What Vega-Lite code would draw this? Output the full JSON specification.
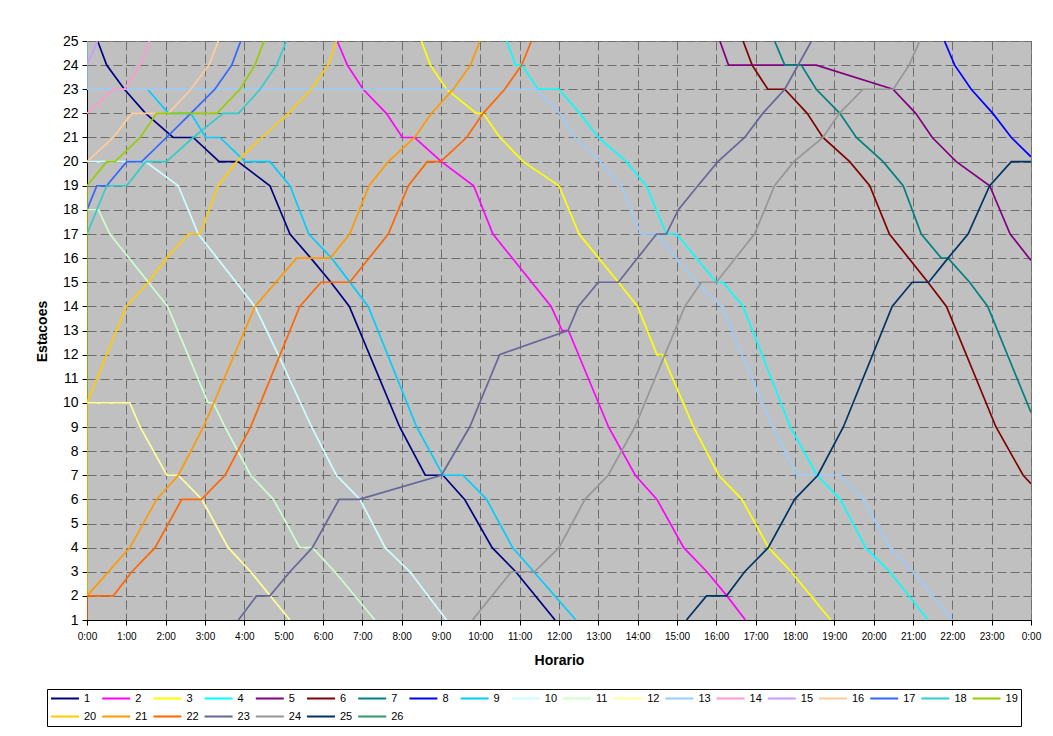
{
"$schema": "https://vega.github.io/schema/vega-lite/v6.json",
"width": 944, "height": 579,
"autosize": {"type": "none"},
"padding": {"left": 87, "top": 41, "right": 22, "bottom": 116},
"background": "white",
"config": {"view": {"fill": "#C0C0C0", "stroke": "#808080", "strokeWidth": 1}, "font": "Liberation Sans"},
"data": {"values": [
{"s":"1","t":0.27,"y":25,"o":0},{"s":"1","t":0.5,"y":24,"o":1},{"s":"1","t":0.95,"y":23,"o":2},{"s":"1","t":1.49,"y":22,"o":3},{"s":"1","t":2.19,"y":21,"o":4},{"s":"1","t":2.7,"y":21,"o":5},{"s":"1","t":3.36,"y":20,"o":6},{"s":"1","t":3.84,"y":20,"o":7},{"s":"1","t":4.65,"y":19,"o":8},{"s":"1","t":5.16,"y":17,"o":9},{"s":"1","t":5.69,"y":16,"o":10},{"s":"1","t":6.2,"y":15,"o":11},{"s":"1","t":6.67,"y":14,"o":12},{"s":"1","t":7.95,"y":9,"o":13},{"s":"1","t":8.6,"y":7,"o":14},{"s":"1","t":9.05,"y":7,"o":15},{"s":"1","t":9.6,"y":6,"o":16},{"s":"1","t":10.3,"y":4,"o":17},{"s":"1","t":10.9,"y":3,"o":18},{"s":"1","t":11.9,"y":1,"o":19},
{"s":"2","t":6.36,"y":25,"o":0},{"s":"2","t":6.62,"y":24,"o":1},{"s":"2","t":7.02,"y":23,"o":2},{"s":"2","t":7.61,"y":22,"o":3},{"s":"2","t":8.02,"y":21,"o":4},{"s":"2","t":8.33,"y":21,"o":5},{"s":"2","t":9.01,"y":20,"o":6},{"s":"2","t":9.83,"y":19,"o":7},{"s":"2","t":10.32,"y":17,"o":8},{"s":"2","t":11.8,"y":14,"o":9},{"s":"2","t":12.08,"y":13,"o":10},{"s":"2","t":12.24,"y":13,"o":11},{"s":"2","t":13.26,"y":9,"o":12},{"s":"2","t":13.94,"y":7,"o":13},{"s":"2","t":14.49,"y":6,"o":14},{"s":"2","t":15.17,"y":4,"o":15},{"s":"2","t":15.76,"y":3,"o":16},{"s":"2","t":16.27,"y":2,"o":17},{"s":"2","t":16.74,"y":1,"o":18},
{"s":"3","t":8.5,"y":25,"o":0},{"s":"3","t":8.73,"y":24,"o":1},{"s":"3","t":9.14,"y":23,"o":2},{"s":"3","t":9.9,"y":22,"o":3},{"s":"3","t":10.07,"y":22,"o":4},{"s":"3","t":10.5,"y":21,"o":5},{"s":"3","t":11.09,"y":20,"o":6},{"s":"3","t":12.0,"y":19,"o":7},{"s":"3","t":12.51,"y":17,"o":8},{"s":"3","t":13.51,"y":15,"o":9},{"s":"3","t":14.0,"y":14,"o":10},{"s":"3","t":14.49,"y":12,"o":11},{"s":"3","t":14.63,"y":12,"o":12},{"s":"3","t":15.42,"y":9,"o":13},{"s":"3","t":16.06,"y":7,"o":14},{"s":"3","t":16.65,"y":6,"o":15},{"s":"3","t":17.33,"y":4,"o":16},{"s":"3","t":17.9,"y":3,"o":17},{"s":"3","t":18.91,"y":1,"o":18},
{"s":"4","t":10.67,"y":25,"o":0},{"s":"4","t":10.9,"y":24,"o":1},{"s":"4","t":11.05,"y":24,"o":2},{"s":"4","t":11.47,"y":23,"o":3},{"s":"4","t":12.0,"y":23,"o":4},{"s":"4","t":12.53,"y":22,"o":5},{"s":"4","t":13.0,"y":21,"o":6},{"s":"4","t":13.71,"y":20,"o":7},{"s":"4","t":14.22,"y":19,"o":8},{"s":"4","t":14.73,"y":17,"o":9},{"s":"4","t":14.99,"y":17,"o":10},{"s":"4","t":16.0,"y":15,"o":11},{"s":"4","t":16.17,"y":15,"o":12},{"s":"4","t":16.68,"y":14,"o":13},{"s":"4","t":17.88,"y":9,"o":14},{"s":"4","t":18.56,"y":7,"o":15},{"s":"4","t":19.15,"y":6,"o":16},{"s":"4","t":19.8,"y":4,"o":17},{"s":"4","t":20.41,"y":3,"o":18},{"s":"4","t":21.38,"y":1,"o":19},
{"s":"5","t":16.09,"y":25,"o":0},{"s":"5","t":16.31,"y":24,"o":1},{"s":"5","t":18.54,"y":24,"o":2},{"s":"5","t":20.49,"y":23,"o":3},{"s":"5","t":21.07,"y":22,"o":4},{"s":"5","t":21.49,"y":21,"o":5},{"s":"5","t":22.1,"y":20,"o":6},{"s":"5","t":22.95,"y":19,"o":7},{"s":"5","t":23.47,"y":17,"o":8},{"s":"5","t":24,"y":15.9,"o":9},
{"s":"6","t":16.68,"y":25,"o":0},{"s":"6","t":16.91,"y":24,"o":1},{"s":"6","t":17.31,"y":23,"o":2},{"s":"6","t":17.74,"y":23,"o":3},{"s":"6","t":18.31,"y":22,"o":4},{"s":"6","t":18.71,"y":21,"o":5},{"s":"6","t":19.39,"y":20,"o":6},{"s":"6","t":19.9,"y":19,"o":7},{"s":"6","t":20.4,"y":17,"o":8},{"s":"6","t":21.38,"y":15,"o":9},{"s":"6","t":21.85,"y":14,"o":10},{"s":"6","t":23.11,"y":9,"o":11},{"s":"6","t":23.8,"y":7,"o":12},{"s":"6","t":24,"y":6.65,"o":13},
{"s":"7","t":17.48,"y":25,"o":0},{"s":"7","t":17.74,"y":24,"o":1},{"s":"7","t":18.16,"y":24,"o":2},{"s":"7","t":18.54,"y":23,"o":3},{"s":"7","t":19.14,"y":22,"o":4},{"s":"7","t":19.56,"y":21,"o":5},{"s":"7","t":20.24,"y":20,"o":6},{"s":"7","t":20.75,"y":19,"o":7},{"s":"7","t":21.21,"y":17,"o":8},{"s":"7","t":21.72,"y":16,"o":9},{"s":"7","t":21.89,"y":16,"o":10},{"s":"7","t":22.44,"y":15,"o":11},{"s":"7","t":22.9,"y":14,"o":12},{"s":"7","t":24,"y":9.6,"o":13},
{"s":"8","t":21.8,"y":25,"o":0},{"s":"8","t":22.06,"y":24,"o":1},{"s":"8","t":22.48,"y":23,"o":2},{"s":"8","t":23.03,"y":22,"o":3},{"s":"8","t":23.5,"y":21,"o":4},{"s":"8","t":24,"y":20.2,"o":5},
{"s":"9","t":1.54,"y":23,"o":0},{"s":"9","t":2.07,"y":22,"o":1},{"s":"9","t":2.64,"y":22,"o":2},{"s":"9","t":3.02,"y":21,"o":3},{"s":"9","t":3.38,"y":21,"o":4},{"s":"9","t":4.02,"y":20,"o":5},{"s":"9","t":4.65,"y":20,"o":6},{"s":"9","t":5.16,"y":19,"o":7},{"s":"9","t":5.64,"y":17,"o":8},{"s":"9","t":6.22,"y":16,"o":9},{"s":"9","t":7.15,"y":14,"o":10},{"s":"9","t":8.38,"y":9,"o":11},{"s":"9","t":9.05,"y":7,"o":12},{"s":"9","t":9.56,"y":7,"o":13},{"s":"9","t":10.16,"y":6,"o":14},{"s":"9","t":10.82,"y":4,"o":15},{"s":"9","t":12.43,"y":1,"o":16},
{"s":"10","t":0,"y":20,"o":0},{"s":"10","t":1.49,"y":20,"o":1},{"s":"10","t":2.32,"y":19,"o":2},{"s":"10","t":2.83,"y":17,"o":3},{"s":"10","t":4.27,"y":14,"o":4},{"s":"10","t":4.86,"y":12,"o":5},{"s":"10","t":5.71,"y":9,"o":6},{"s":"10","t":6.34,"y":7,"o":7},{"s":"10","t":6.94,"y":6,"o":8},{"s":"10","t":7.58,"y":4,"o":9},{"s":"10","t":8.21,"y":3,"o":10},{"s":"10","t":9.14,"y":1,"o":11},
{"s":"11","t":0,"y":18,"o":0},{"s":"11","t":0.29,"y":18,"o":1},{"s":"11","t":0.58,"y":17,"o":2},{"s":"11","t":1.56,"y":15,"o":3},{"s":"11","t":2.05,"y":14,"o":4},{"s":"11","t":3.08,"y":10,"o":5},{"s":"11","t":3.21,"y":10,"o":6},{"s":"11","t":3.51,"y":9,"o":7},{"s":"11","t":4.16,"y":7,"o":8},{"s":"11","t":4.74,"y":6,"o":9},{"s":"11","t":5.41,"y":4,"o":10},{"s":"11","t":5.73,"y":4,"o":11},{"s":"11","t":6.3,"y":3,"o":12},{"s":"11","t":7.32,"y":1,"o":13},
{"s":"12","t":0,"y":10,"o":0},{"s":"12","t":1.09,"y":10,"o":1},{"s":"12","t":1.35,"y":9,"o":2},{"s":"12","t":2.03,"y":7,"o":3},{"s":"12","t":2.32,"y":7,"o":4},{"s":"12","t":2.92,"y":6,"o":5},{"s":"12","t":3.59,"y":4,"o":6},{"s":"12","t":4.16,"y":3,"o":7},{"s":"12","t":5.16,"y":1,"o":8},
{"s":"13","t":0,"y":25,"o":0},{"s":"13","t":0,"y":23,"o":1},{"s":"13","t":11.43,"y":23,"o":2},{"s":"13","t":12.02,"y":22,"o":3},{"s":"13","t":12.4,"y":21,"o":4},{"s":"13","t":13.04,"y":20,"o":5},{"s":"13","t":13.59,"y":19,"o":6},{"s":"13","t":14.08,"y":17,"o":7},{"s":"13","t":14.48,"y":17,"o":8},{"s":"13","t":15.49,"y":15,"o":9},{"s":"13","t":16.13,"y":14,"o":10},{"s":"13","t":17.43,"y":9,"o":11},{"s":"13","t":18.05,"y":7,"o":12},{"s":"13","t":19.15,"y":7,"o":13},{"s":"13","t":19.73,"y":6,"o":14},{"s":"13","t":20.41,"y":4,"o":15},{"s":"13","t":21.0,"y":3,"o":16},{"s":"13","t":22.0,"y":1,"o":17},
{"s":"14","t":0,"y":22,"o":0},{"s":"14","t":0.67,"y":23,"o":1},{"s":"14","t":0.95,"y":23,"o":2},{"s":"14","t":1.35,"y":24,"o":3},{"s":"14","t":1.58,"y":25,"o":4},
{"s":"15","t":0,"y":24,"o":0},{"s":"15","t":0.27,"y":25,"o":1},
{"s":"16","t":0,"y":20,"o":0},{"s":"16","t":0.67,"y":21,"o":1},{"s":"16","t":1.14,"y":22,"o":2},{"s":"16","t":2.07,"y":22,"o":3},{"s":"16","t":2.64,"y":23,"o":4},{"s":"16","t":3.1,"y":24,"o":5},{"s":"16","t":3.34,"y":25,"o":6},
{"s":"17","t":0,"y":18,"o":0},{"s":"17","t":0.25,"y":19,"o":1},{"s":"17","t":0.5,"y":19,"o":2},{"s":"17","t":1.01,"y":20,"o":3},{"s":"17","t":1.39,"y":20,"o":4},{"s":"17","t":2.02,"y":21,"o":5},{"s":"17","t":2.64,"y":22,"o":6},{"s":"17","t":3.25,"y":23,"o":7},{"s":"17","t":3.68,"y":24,"o":8},{"s":"17","t":3.91,"y":25,"o":9},
{"s":"18","t":0,"y":17,"o":0},{"s":"18","t":0.5,"y":19,"o":1},{"s":"18","t":1.01,"y":19,"o":2},{"s":"18","t":1.49,"y":20,"o":3},{"s":"18","t":2.02,"y":20,"o":4},{"s":"18","t":2.7,"y":21,"o":5},{"s":"18","t":3.46,"y":22,"o":6},{"s":"18","t":3.85,"y":22,"o":7},{"s":"18","t":4.4,"y":23,"o":8},{"s":"18","t":4.82,"y":24,"o":9},{"s":"18","t":5.07,"y":25,"o":10},
{"s":"19","t":0,"y":10,"o":0},{"s":"19","t":0,"y":19,"o":1},{"s":"19","t":0.5,"y":20,"o":2},{"s":"19","t":0.71,"y":20,"o":3},{"s":"19","t":1.35,"y":21,"o":4},{"s":"19","t":1.77,"y":22,"o":5},{"s":"19","t":3.3,"y":22,"o":6},{"s":"19","t":3.89,"y":23,"o":7},{"s":"19","t":4.27,"y":24,"o":8},{"s":"19","t":4.5,"y":25,"o":9},
{"s":"20","t":0,"y":2,"o":0},{"s":"20","t":0,"y":10,"o":1},{"s":"20","t":1.0,"y":14,"o":2},{"s":"20","t":1.56,"y":15,"o":3},{"s":"20","t":2.02,"y":16,"o":4},{"s":"20","t":2.58,"y":17,"o":5},{"s":"20","t":2.87,"y":17,"o":6},{"s":"20","t":3.34,"y":19,"o":7},{"s":"20","t":3.8,"y":20,"o":8},{"s":"20","t":4.45,"y":21,"o":9},{"s":"20","t":5.12,"y":22,"o":10},{"s":"20","t":5.7,"y":23,"o":11},{"s":"20","t":6.13,"y":24,"o":12},{"s":"20","t":6.34,"y":25,"o":13},
{"s":"21","t":0,"y":2,"o":0},{"s":"21","t":1.09,"y":4,"o":1},{"s":"21","t":1.77,"y":6,"o":2},{"s":"21","t":2.32,"y":7,"o":3},{"s":"21","t":2.96,"y":9,"o":4},{"s":"21","t":4.27,"y":14,"o":5},{"s":"21","t":5.33,"y":16,"o":6},{"s":"21","t":6.18,"y":16,"o":7},{"s":"21","t":6.68,"y":17,"o":8},{"s":"21","t":7.17,"y":19,"o":9},{"s":"21","t":7.66,"y":20,"o":10},{"s":"21","t":8.33,"y":21,"o":11},{"s":"21","t":8.76,"y":22,"o":12},{"s":"21","t":9.31,"y":23,"o":13},{"s":"21","t":9.75,"y":24,"o":14},{"s":"21","t":9.99,"y":25,"o":15},
{"s":"22","t":0,"y":1,"o":0},{"s":"22","t":0,"y":2,"o":1},{"s":"22","t":0.67,"y":2,"o":2},{"s":"22","t":1.14,"y":3,"o":3},{"s":"22","t":1.73,"y":4,"o":4},{"s":"22","t":2.41,"y":6,"o":5},{"s":"22","t":2.91,"y":6,"o":6},{"s":"22","t":3.51,"y":7,"o":7},{"s":"22","t":4.16,"y":9,"o":8},{"s":"22","t":5.41,"y":14,"o":9},{"s":"22","t":5.95,"y":15,"o":10},{"s":"22","t":6.68,"y":15,"o":11},{"s":"22","t":7.66,"y":17,"o":12},{"s":"22","t":8.17,"y":19,"o":13},{"s":"22","t":8.65,"y":20,"o":14},{"s":"22","t":8.99,"y":20,"o":15},{"s":"22","t":9.65,"y":21,"o":16},{"s":"22","t":10.07,"y":22,"o":17},{"s":"22","t":10.62,"y":23,"o":18},{"s":"22","t":11.05,"y":24,"o":19},{"s":"22","t":11.3,"y":25,"o":20},
{"s":"23","t":3.85,"y":1,"o":0},{"s":"23","t":4.31,"y":2,"o":1},{"s":"23","t":4.65,"y":2,"o":2},{"s":"23","t":5.16,"y":3,"o":3},{"s":"23","t":5.73,"y":4,"o":4},{"s":"23","t":6.41,"y":6,"o":5},{"s":"23","t":6.92,"y":6,"o":6},{"s":"23","t":9.01,"y":7,"o":7},{"s":"23","t":9.73,"y":9,"o":8},{"s":"23","t":10.49,"y":12,"o":9},{"s":"23","t":12.23,"y":13,"o":10},{"s":"23","t":12.49,"y":14,"o":11},{"s":"23","t":13.0,"y":15,"o":12},{"s":"23","t":13.51,"y":15,"o":13},{"s":"23","t":14.48,"y":17,"o":14},{"s":"23","t":14.73,"y":17,"o":15},{"s":"23","t":15.03,"y":18,"o":16},{"s":"23","t":15.53,"y":19,"o":17},{"s":"23","t":16.04,"y":20,"o":18},{"s":"23","t":16.72,"y":21,"o":19},{"s":"23","t":17.18,"y":22,"o":20},{"s":"23","t":17.74,"y":23,"o":21},{"s":"23","t":18.42,"y":25,"o":22},
{"s":"24","t":9.8,"y":1,"o":0},{"s":"24","t":10.79,"y":3,"o":1},{"s":"24","t":11.38,"y":3,"o":2},{"s":"24","t":12.0,"y":4,"o":3},{"s":"24","t":12.66,"y":6,"o":4},{"s":"24","t":13.25,"y":7,"o":5},{"s":"24","t":13.93,"y":9,"o":6},{"s":"24","t":15.2,"y":14,"o":7},{"s":"24","t":15.62,"y":15,"o":8},{"s":"24","t":16.0,"y":15,"o":9},{"s":"24","t":16.97,"y":17,"o":10},{"s":"24","t":17.48,"y":19,"o":11},{"s":"24","t":17.97,"y":20,"o":12},{"s":"24","t":18.71,"y":21,"o":13},{"s":"24","t":19.13,"y":22,"o":14},{"s":"24","t":19.73,"y":23,"o":15},{"s":"24","t":20.5,"y":23,"o":16},{"s":"24","t":20.9,"y":24,"o":17},{"s":"24","t":21.17,"y":25,"o":18},
{"s":"25","t":15.24,"y":1,"o":0},{"s":"25","t":15.75,"y":2,"o":1},{"s":"25","t":16.26,"y":2,"o":2},{"s":"25","t":16.72,"y":3,"o":3},{"s":"25","t":17.32,"y":4,"o":4},{"s":"25","t":17.99,"y":6,"o":5},{"s":"25","t":18.58,"y":7,"o":6},{"s":"25","t":19.23,"y":9,"o":7},{"s":"25","t":20.47,"y":14,"o":8},{"s":"25","t":20.98,"y":15,"o":9},{"s":"25","t":21.4,"y":15,"o":10},{"s":"25","t":21.89,"y":16,"o":11},{"s":"25","t":22.4,"y":17,"o":12},{"s":"25","t":22.95,"y":19,"o":13},{"s":"25","t":23.5,"y":20,"o":14},{"s":"25","t":24,"y":20,"o":15}
]},
"mark": {"type": "line", "strokeWidth": 1.7, "clip": true},
"encoding": {
  "x": {"field": "t", "type": "quantitative",
    "scale": {"domain": [0, 24], "nice": false, "zero": false},
    "axis": {"title": "Horario", "values": [0,1,2,3,4,5,6,7,8,9,10,11,12,13,14,15,16,17,18,19,20,21,22,23,24],
      "labelExpr": "(datum.value % 24) + ':00'", "labelFlush": false, "labelOverlap": false,
      "grid": true, "gridColor": "#6e6e6e", "gridDash": [9, 4], "gridWidth": 1,
      "domainColor": "black", "tickColor": "black", "tickSize": 5,
      "labelFontSize": 10, "labelColor": "black", "labelPadding": 6,
      "titleFontSize": 14, "titleFontWeight": "bold", "titleColor": "black", "titlePadding": 12}},
  "y": {"field": "y", "type": "quantitative",
    "scale": {"domain": [1, 25], "nice": false, "zero": false},
    "axis": {"title": "Estacoes", "values": [1,2,3,4,5,6,7,8,9,10,11,12,13,14,15,16,17,18,19,20,21,22,23,24,25],
      "labelOverlap": false,
      "grid": true, "gridColor": "#6e6e6e", "gridDash": [9, 4], "gridWidth": 1,
      "domainColor": "black", "tickColor": "black", "tickSize": 5,
      "labelFontSize": 14, "labelColor": "black", "labelPadding": 4,
      "titleFontSize": 14, "titleFontWeight": "bold", "titleColor": "black",
      "titleX": -38, "titleY": 290, "titleBaseline": "bottom"}},
  "color": {"field": "s", "type": "nominal",
    "scale": {"domain": ["1","2","3","4","5","6","7","8","9","10","11","12","13","14","15","16","17","18","19","20","21","22","23","24","25","26"],
      "range": ["#000080","#FF00FF","#FFFF00","#00FFFF","#800080","#800000","#008080","#0000FF","#00CCFF","#CCFFFF","#CCFFCC","#FFFF99","#99CCFF","#FF99CC","#CC99FF","#FFCC99","#3366FF","#33CCCC","#99CC00","#FFCC00","#FF9900","#FF6600","#666699","#969696","#003366","#339966"]},
    "legend": {"title": null, "orient": "none", "legendX": -40, "legendY": 648,
      "direction": "horizontal", "columns": 19, "gridAlign": "all",
      "symbolType": "stroke", "symbolSize": 784, "symbolStrokeWidth": 2,
      "clipHeight": 13,
      "labelFontSize": 11, "labelColor": "black", "labelOffset": 4,
      "columnPadding": 4.2, "rowPadding": 5, "padding": 3,
      "strokeColor": "black", "fillColor": "white"}},
  "order": {"field": "o", "type": "quantitative"}
}
}
